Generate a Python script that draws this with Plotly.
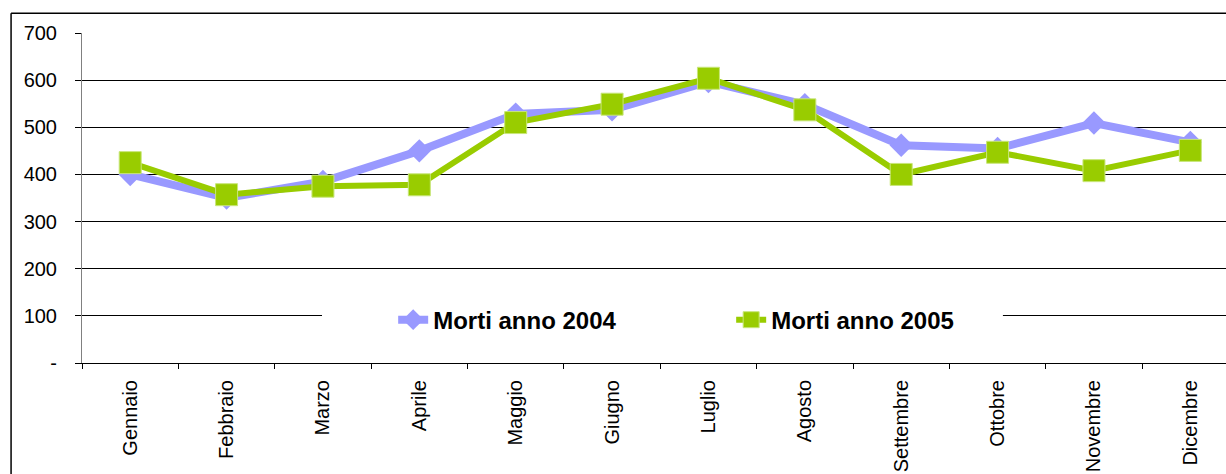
import plotly.graph_objects as go

months = ["Gennaio", "Febbraio", "Marzo", "Aprile", "Maggio", "Giugno",
          "Luglio", "Agosto", "Settembre", "Ottobre", "Novembre", "Dicembre"]
morti_2004 = [400, 350, 385, 450, 528, 537, 597, 548, 462, 455, 509, 468]
morti_2005 = [425, 357, 375, 378, 510, 549, 604, 537, 400, 447, 408, 451]
y_ticks = [0, 100, 200, 300, 400, 500, 600, 700]
y_ticklabels = ["-", "100", "200", "300", "400", "500", "600", "700"]

FONT = "Arial, Liberation Sans, sans-serif"

fig = go.Figure()
fig.add_trace(go.Scatter(
    x=months, y=morti_2004, name="Morti anno 2004", mode="lines+markers",
    line=dict(color="#9999FF", width=8),
    marker=dict(symbol="diamond", size=18, color="#9999FF"),
))
fig.add_trace(go.Scatter(
    x=months, y=morti_2005, name="Morti anno 2005", mode="lines+markers",
    line=dict(color="#99CC00", width=6),
    marker=dict(symbol="square", size=22, color="#99CC00",
                line=dict(color="#C8E67A", width=1)),
))

# outer chart frame (top and left edges visible in the crop)
fig.add_shape(type="line", xref="paper", yref="paper",
              x0=-0.062, x1=1.05, y0=1.06, y1=1.06,
              line=dict(color="black", width=1.5))
fig.add_shape(type="line", xref="paper", yref="paper",
              x0=-0.062, x1=-0.062, y0=1.06, y1=-0.5,
              line=dict(color="black", width=1.5))
# white legend area hiding the gridline behind the legend
fig.add_shape(type="rect", xref="paper", yref="paper", layer="above",
              x0=0.2098, x1=0.805, y0=0.07, y1=0.19,
              fillcolor="white", line=dict(width=0))

fig.update_layout(
    width=1226, height=474,
    margin=dict(l=82, r=0, t=33, b=111),
    paper_bgcolor="white", plot_bgcolor="white",
    font=dict(family=FONT, size=19, color="black"),
    showlegend=True,
    legend=dict(
        orientation="h", x=0.272, xanchor="left", y=0.13, yanchor="middle",
        bgcolor="rgba(255,255,255,0)",
        font=dict(family=FONT, size=24, color="black", weight="bold"),
        entrywidth=293, entrywidthmode="pixels",
    ),
    xaxis=dict(
        type="category", range=[-0.5, 11.37],
        showline=True, linecolor="black", linewidth=1,
        ticks="outside", tickson="boundaries", ticklen=5, tickcolor="black",
        tickangle=-90, showgrid=False, ticklabelstandoff=8,
        tickfont=dict(size=20),
    ),
    yaxis=dict(
        range=[0, 700], tickvals=y_ticks, ticktext=y_ticklabels,
        showline=True, linecolor="#808080", linewidth=1,
        ticks="outside", ticklen=6, tickcolor="black",
        showgrid=True, gridcolor="black", gridwidth=1,
        zeroline=False, ticklabelstandoff=14,
        tickfont=dict(size=20),
    ),
)

fig.write_html("out.html", config={"displayModeBar": False},
               post_script="document.body.style.margin='0';")
